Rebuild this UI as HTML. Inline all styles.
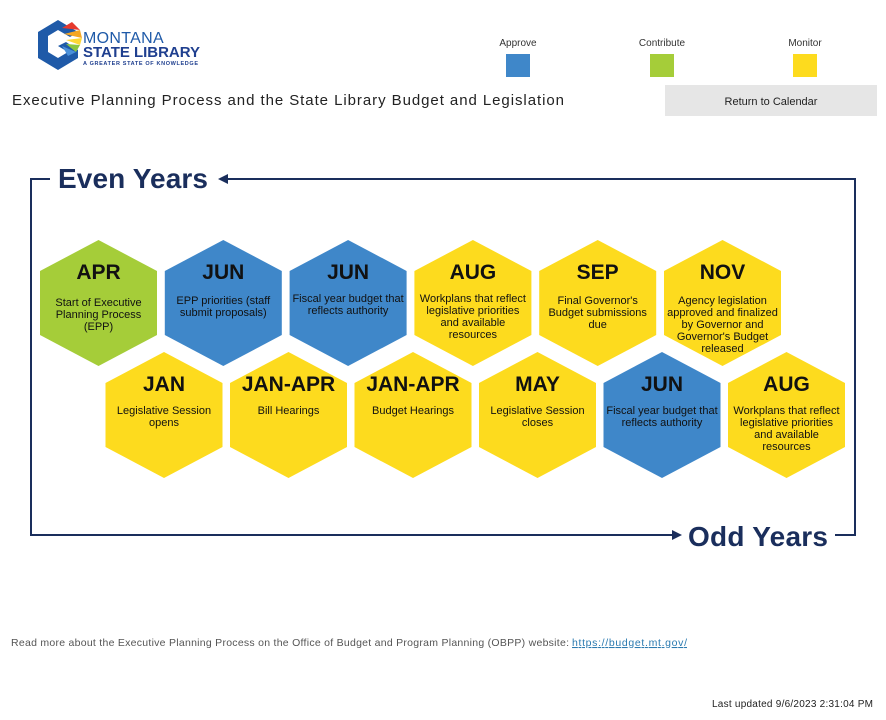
<!DOCTYPE html>
<html><head><meta charset="utf-8"><style>
body{margin:0;width:886px;height:720px;background:#fff;font-family:"Liberation Sans",sans-serif;overflow:hidden;position:relative}
.abs{position:absolute}
</style></head><body>
<svg class="abs" style="left:0;top:0" width="886" height="720" xmlns="http://www.w3.org/2000/svg" font-family="Liberation Sans, sans-serif">
<g>
<polygon points="38,32 58,20 78,32 70,37 58,30 48,36 48,52 58,58 68,52 58,46 66,42 78,50 78,58 58,70 38,58" fill="#1f5aa8"/>
<polygon points="62,28 72,22 80,30" fill="#e63a2e"/>
<polygon points="64,34 80,30 82,38" fill="#f5a623"/>
<polygon points="66,40 82,38 80,45" fill="#fdd835"/>
<polygon points="66,44 80,45 76,52" fill="#8cc63f"/>
<polygon points="62,46 76,52 68,56" fill="#4a90d9"/>
<text x="83" y="43" font-size="16" fill="#1f5aa8" letter-spacing="0.3">MONTANA</text>
<text x="83" y="57" font-size="15" font-weight="bold" fill="#1f3f8f" textLength="117">STATE LIBRARY</text>
<text x="83" y="65" font-size="5.5" font-weight="bold" fill="#1f3f8f" textLength="115">A GREATER STATE OF KNOWLEDGE</text>
</g>
<text x="518" y="46" font-size="10" text-anchor="middle" fill="#333">Approve</text>
<rect x="506" y="54" width="24" height="23" fill="#3f87c9"/>
<text x="662" y="46" font-size="10" text-anchor="middle" fill="#333">Contribute</text>
<rect x="650" y="54" width="24" height="23" fill="#a5cd39"/>
<text x="805" y="46" font-size="10" text-anchor="middle" fill="#333">Monitor</text>
<rect x="793" y="54" width="24" height="23" fill="#fddb1e"/>
<text x="12" y="105" font-size="15" fill="#222" textLength="552">Executive Planning Process and the State Library Budget and Legislation</text>
<rect x="665" y="85" width="212" height="31" fill="#e6e6e6"/>
<text x="771" y="105" font-size="11" text-anchor="middle" fill="#222">Return to Calendar</text>
<g stroke="#1a2e5c" stroke-width="2" fill="none">
<polyline points="50,179 31,179 31,535 680,535"/>
<polyline points="226,179 855,179 855,535 835,535"/>
</g>
<polygon points="218,179 228,174 228,184" fill="#1a2e5c"/>
<polygon points="682,535 672,530 672,540" fill="#1a2e5c"/>
<text x="58" y="188" font-size="28" font-weight="bold" fill="#1a2e5c" textLength="150">Even Years</text>
<text x="688" y="546" font-size="28" font-weight="bold" fill="#1a2e5c" textLength="140">Odd Years</text>
<defs><polygon id="hx" points="0,-63 58.5,-32 58.5,32 0,63 -58.5,32 -58.5,-32"/></defs>
<g font-size="11" text-anchor="middle" fill="#111">
<use href="#hx" x="98.5" y="303" fill="#a5cd39"/>
<use href="#hx" x="223.3" y="303" fill="#3f87c9"/>
<use href="#hx" x="348.1" y="303" fill="#3f87c9"/>
<use href="#hx" x="472.9" y="303" fill="#fddb1e"/>
<use href="#hx" x="597.7" y="303" fill="#fddb1e"/>
<use href="#hx" x="722.5" y="303" fill="#fddb1e"/>
<use href="#hx" x="164" y="415" fill="#fddb1e"/>
<use href="#hx" x="288.5" y="415" fill="#fddb1e"/>
<use href="#hx" x="413" y="415" fill="#fddb1e"/>
<use href="#hx" x="537.5" y="415" fill="#fddb1e"/>
<use href="#hx" x="662" y="415" fill="#3f87c9"/>
<use href="#hx" x="786.5" y="415" fill="#fddb1e"/>
<g font-size="21" font-weight="bold">
<text x="98.5" y="279">APR</text><text x="223.3" y="279">JUN</text><text x="348.1" y="279">JUN</text><text x="472.9" y="279">AUG</text><text x="597.7" y="279">SEP</text><text x="722.5" y="279">NOV</text>
<text x="164" y="391">JAN</text><text x="288.5" y="391">JAN-APR</text><text x="413" y="391">JAN-APR</text><text x="537.5" y="391">MAY</text><text x="662" y="391">JUN</text><text x="786.5" y="391">AUG</text>
</g>
<text x="98.5" y="306">Start of Executive</text><text x="98.5" y="318">Planning Process</text><text x="98.5" y="330">(EPP)</text>
<text x="223.3" y="304">EPP priorities (staff</text><text x="223.3" y="316">submit proposals)</text>
<text x="348.1" y="302">Fiscal year budget that</text><text x="348.1" y="314">reflects authority</text>
<text x="472.9" y="302">Workplans that reflect</text><text x="472.9" y="314">legislative priorities</text><text x="472.9" y="326">and available</text><text x="472.9" y="338">resources</text>
<text x="597.7" y="304">Final Governor's</text><text x="597.7" y="316">Budget submissions</text><text x="597.7" y="328">due</text>
<text x="722.5" y="304">Agency legislation</text><text x="722.5" y="316">approved and finalized</text><text x="722.5" y="328">by Governor and</text><text x="722.5" y="340">Governor's Budget</text><text x="722.5" y="352">released</text>
<text x="164" y="414">Legislative Session</text><text x="164" y="426">opens</text>
<text x="288.5" y="414">Bill Hearings</text>
<text x="413" y="414">Budget Hearings</text>
<text x="537.5" y="414">Legislative Session</text><text x="537.5" y="426">closes</text>
<text x="662" y="414">Fiscal year budget that</text><text x="662" y="426">reflects authority</text>
<text x="786.5" y="414">Workplans that reflect</text><text x="786.5" y="426">legislative priorities</text><text x="786.5" y="438">and available</text><text x="786.5" y="450">resources</text>
</g>
<text x="11" y="646" font-size="10.5" fill="#555" textLength="558">Read more about the Executive Planning Process on the Office of Budget and Program Planning (OBPP) website:</text>
<text x="572" y="646" font-size="10.5" fill="#2a7ab0" text-decoration="underline" textLength="115">https://budget.mt.gov/</text>
<text x="873" y="707" font-size="10" text-anchor="end" fill="#222" textLength="161">Last updated 9/6/2023 2:31:04 PM</text>
</svg>
</body></html>
